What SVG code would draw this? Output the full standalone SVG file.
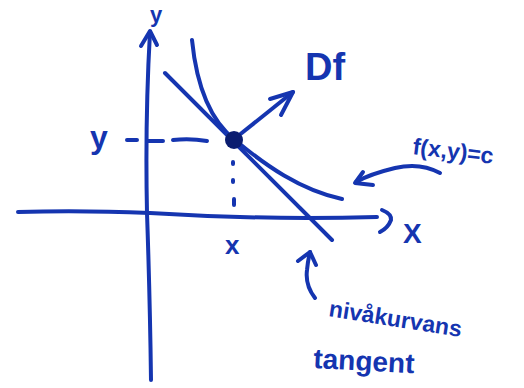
<svg xmlns="http://www.w3.org/2000/svg" width="524" height="388" viewBox="0 0 524 388">
<style>
.s{fill:none;stroke:#1535b0;stroke-width:4;stroke-linecap:round;stroke-linejoin:round}
.t{fill:#1535b0;font-family:"Liberation Sans",Arial,sans-serif;font-weight:bold}
</style>
<rect width="524" height="388" fill="#fff"/>
<g id="connectors">
<path class="s" d="M18,212 Q80,210 150,213 Q260,220 377,217"/>
<path class="s" d="M382,210 Q392,214 391,220 Q388,228 380,232"/>
<path class="s" d="M151,380 Q150,300 147,213 Q145,120 150,32"/>
<path class="s" d="M141,46 L150,31 L157,45"/>
<path class="s" d="M192,40 C197,90 212,122 235,140 C265,165 300,190 342,199"/>
<path class="s" d="M165,73 L332,240"/>
<path class="s" d="M238,136 L293,92"/>
<path class="s" d="M270,99 L293,92 L281,115"/>
<path class="s" d="M127,140 L137,140 M148,141 L163,141 M173,140 Q190,138 207,141" stroke-width="3.5"/>
<path class="s" d="M233,162 L233,164 M233,180 L233,182 M234,199 L234,205" stroke-width="3"/>
<path class="s" d="M440,173 Q420,162 395,168 Q370,174 356,182"/>
<path class="s" d="M363,172 L355,183 L373,185"/>
<path class="s" d="M315,298 Q305,285 307,270 Q308,260 310,252"/>
<path class="s" d="M298,261 L310,252 L316,265"/>
</g>
<g id="point"><circle cx="234" cy="140" r="9" fill="#0b1d70"/></g>
<g id="labels">
<text class="t" x="150" y="22" font-size="22">y</text>
<text class="t" x="403" y="243" font-size="28">X</text>
<text class="t" x="225" y="254" font-size="26">x</text>
<text class="t" x="90" y="148" font-size="32">y</text>
<text class="t" x="305" y="80" font-size="38">Df</text>
<text class="t" x="412" y="154" font-size="23" transform="rotate(7 412 154)">f(x,y)=c</text>
<text class="t" x="328" y="316" font-size="23" transform="rotate(9 328 316)">nivåkurvans</text>
<text class="t" x="313" y="368" font-size="28" transform="rotate(3 313 368)">tangent</text>
</g>
</svg>
